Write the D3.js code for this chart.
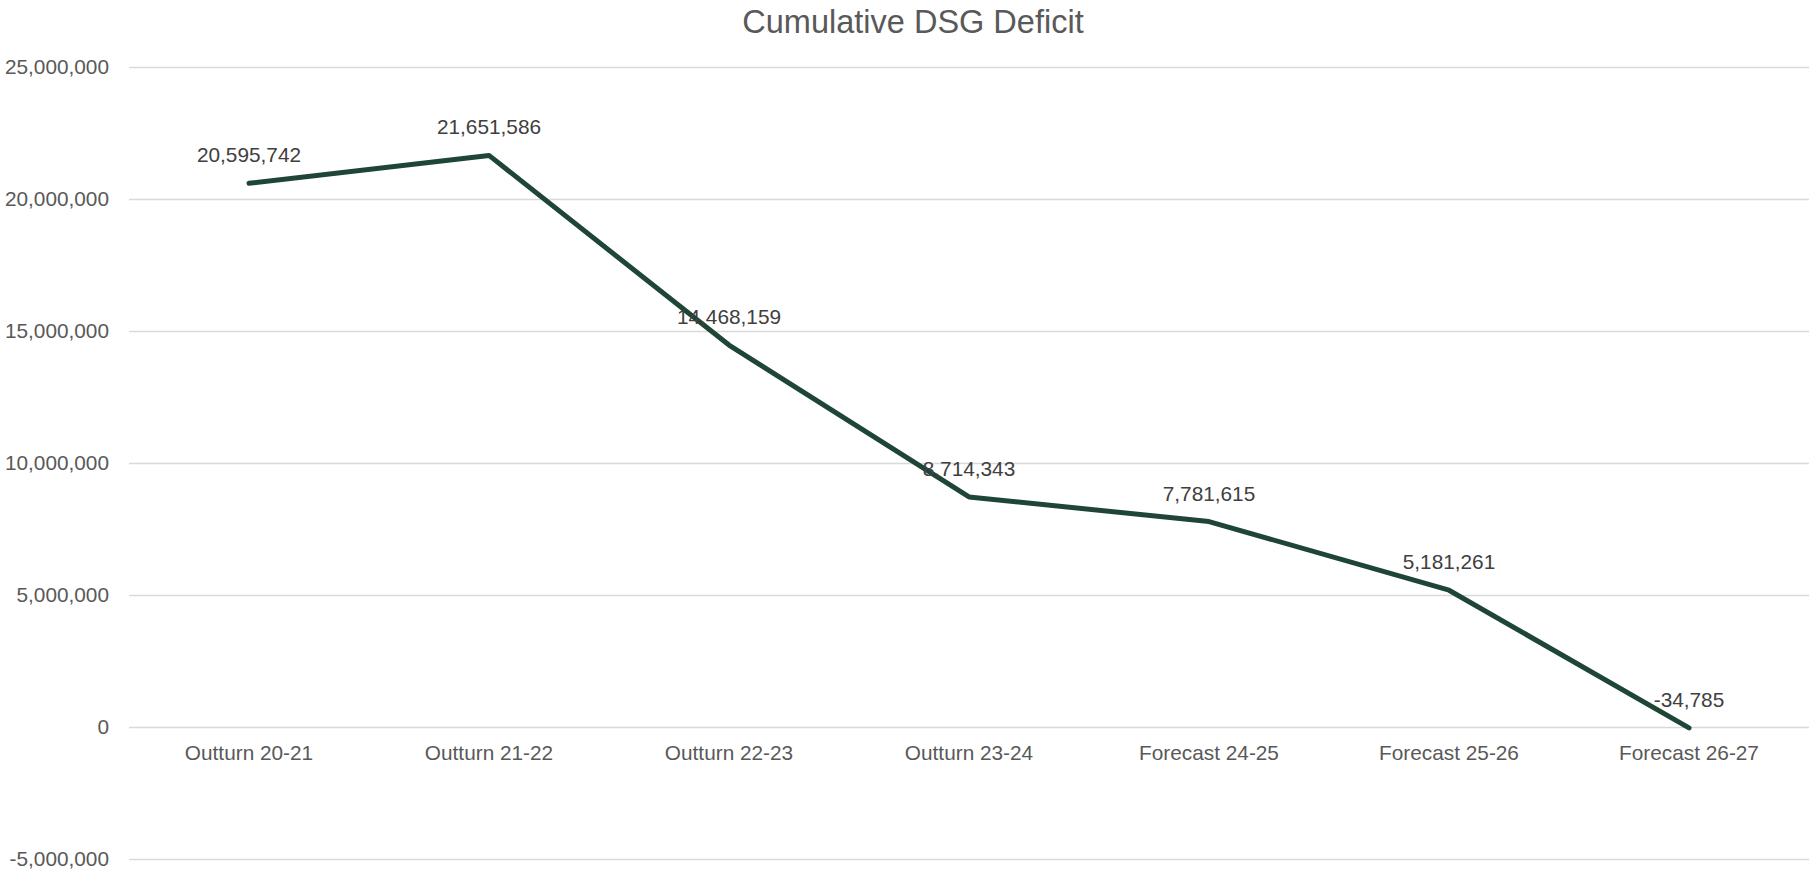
<!DOCTYPE html>
<html>
<head>
<meta charset="utf-8">
<script src="https://cdn.jsdelivr.net/npm/d3@7"></script>
<style>
  body { margin: 0; background: #fff; }
  svg { display: block; font-family: "Liberation Sans", Arial, sans-serif; }
</style>
</head>
<body>
<div id="chart"></div>
<script>
// chart data
const categories = ["Outturn 20-21", "Outturn 21-22", "Outturn 22-23", "Outturn 23-24",
                    "Forecast 24-25", "Forecast 25-26", "Forecast 26-27"];
const deficit = [20595742, 21651586, 14468159, 8714343, 7781615, 5181261, -34785];
const yTicks = [-5000000, 0, 5000000, 10000000, 15000000, 20000000, 25000000];

const width = 1809;
const height = 873;
const margin = {top: 67, right: 0, bottom: 14, left: 129};

const svg = d3.select("#chart").append("svg")
    .attr("width", width)
    .attr("height", height);

const x = d3.scaleBand()
    .domain(categories)
    .range([margin.left, width - margin.right]);

const y = d3.scaleLinear()
    .domain([-5000000, 25000000])
    .range([height - margin.bottom, margin.top]);

// plain hyphen for negatives, like the spreadsheet does
const locale = d3.formatLocale({decimal: ".", thousands: ",", grouping: [3], currency: ["", ""], minus: "-"});
const fmt = locale.format(",");

// title
svg.append("text")
    .attr("x", 913)
    .attr("y", 33)
    .attr("text-anchor", "middle")
    .attr("font-size", 32.5)
    .attr("fill", "#595959")
    .text("Cumulative DSG Deficit");

// gridlines + y labels
const yAxis = d3.axisLeft(y)
    .tickValues(yTicks)
    .tickSize(-(width - margin.left - margin.right))
    .tickPadding(20)
    .tickFormat(fmt);

svg.append("g")
    .attr("transform", `translate(${margin.left},0)`)
    .call(yAxis)
    .call(g => g.select(".domain").remove())
    .call(g => g.selectAll(".tick line").attr("stroke", "#d9d9d9").attr("stroke-width", 1.3))
    .call(g => g.selectAll(".tick text")
        .attr("font-size", 20.8)
        .attr("fill", "#595959")
        .attr("font-family", "\"Liberation Sans\", Arial, sans-serif"));

// category labels along the zero line
const xAxis = d3.axisBottom(x).tickSize(0).tickPadding(18);
svg.append("g")
    .attr("transform", `translate(0,${y(0)})`)
    .call(xAxis)
    .call(g => g.select(".domain").remove())
    .call(g => g.selectAll(".tick text")
        .attr("font-size", 20.8)
        .attr("fill", "#595959")
        .attr("font-family", "\"Liberation Sans\", Arial, sans-serif"));

// the line
const line = d3.line()
    .x((d, i) => x(categories[i]) + x.bandwidth() / 2)
    .y(d => y(d));

svg.append("path")
    .datum(deficit)
    .attr("fill", "none")
    .attr("stroke", "#1f4536")
    .attr("stroke-width", 5)
    .attr("stroke-linejoin", "round")
    .attr("stroke-linecap", "round")
    .attr("d", line);

// data labels
svg.append("g")
    .selectAll("text")
    .data(deficit)
    .join("text")
    .attr("x", (d, i) => x(categories[i]) + x.bandwidth() / 2)
    .attr("y", d => y(d) - 21)
    .attr("text-anchor", "middle")
    .attr("font-size", 20.8)
    .attr("fill", "#404040")
    .text(d => fmt(d));
</script>
</body>
</html>
